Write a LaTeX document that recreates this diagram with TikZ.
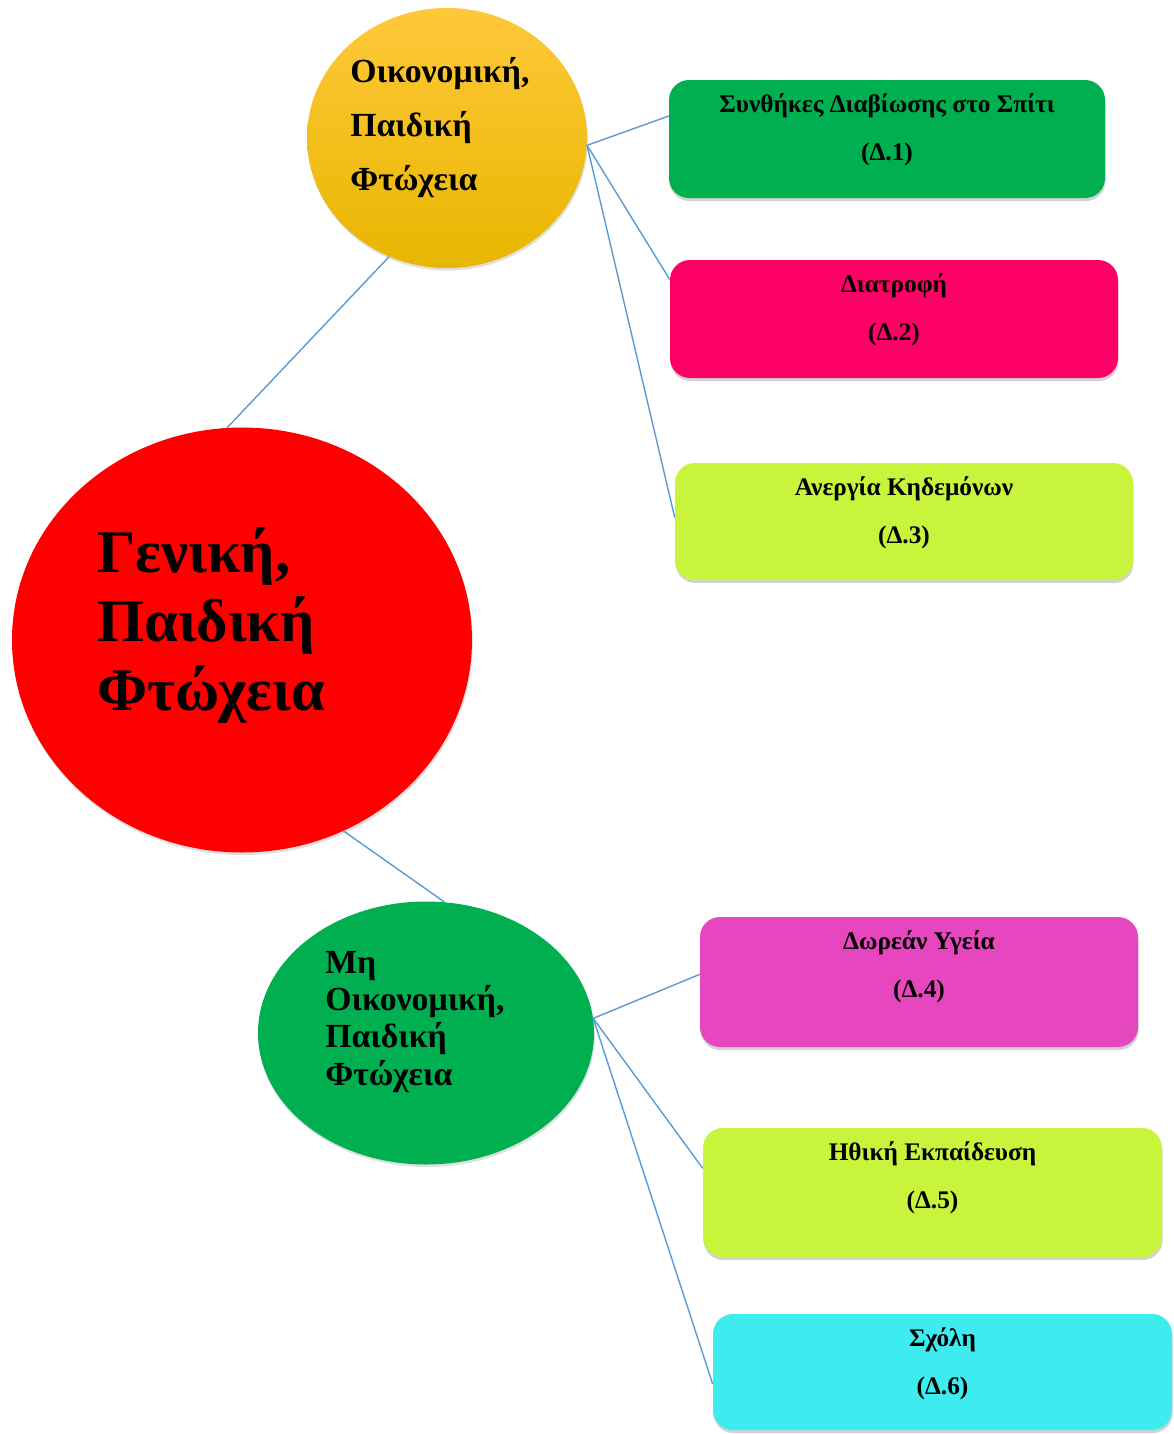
\documentclass[tikz,border=0pt]{standalone}
\usepackage{fontspec}
\setmainfont{Liberation Serif}
\usetikzlibrary{positioning,shapes.geometric,shadows,fit}

\definecolor{linkblue}{HTML}{5B9BD5}
\definecolor{goldtop}{HTML}{FFC83A}
\definecolor{goldbottom}{HTML}{E8B600}
\definecolor{hotred}{HTML}{FF0000}
\definecolor{leafgreen}{HTML}{00B050}
\definecolor{hotpink}{HTML}{FF0066}
\definecolor{limegreen}{HTML}{C8F43C}
\definecolor{orchid}{HTML}{E646BE}
\definecolor{aqua}{HTML}{3EECF0}

\begin{document}
\begin{tikzpicture}[x=0.025cm, y=-0.025cm,
  blob/.style={ellipse, inner sep=0pt, drop shadow={shadow xshift=0.6pt, shadow yshift=-1.8pt, opacity=0.25}},
  card/.style={rectangle, rounded corners=0.5cm, inner sep=0pt, drop shadow={shadow xshift=0.4pt, shadow yshift=-2.2pt, opacity=0.35}},
  blobtext/.style={anchor=north west, inner sep=0pt, align=left},
  cardtext/.style={inner sep=0pt, align=center, font=\bfseries\fontsize{18}{34}\selectfont},
  link/.style={draw=linkblue, line width=1pt}]

% Canvas
\useasboundingbox[fill=white] (0,0) rectangle (1173,1434);

% Draw circles
\node[blob, top color=goldtop, bottom color=goldbottom, minimum width=280*0.025cm, minimum height=260*0.025cm] (econ) at (447,138) {};
\node[blob, fill=hotred, minimum width=460*0.025cm, minimum height=425*0.025cm] (general) at (242,640) {};
\node[blob, fill=leafgreen, minimum width=336*0.025cm, minimum height=263*0.025cm] (nonecon) at (426,1033) {};

% Texts in circles
\node[blobtext, font=\bfseries\fontsize{24}{38.4}\selectfont] (econText) at (350,57) {Οικονομική,\\Παιδική\\Φτώχεια};
\node[blobtext, font=\bfseries\fontsize{43}{49}\selectfont] (generalText) at (97,527) {Γενική,\\Παιδική\\Φτώχεια};
\node[blobtext, font=\bfseries\fontsize{24}{26.5}\selectfont] (noneconText) at (325,951) {Μη\\Οικονομική,\\Παιδική\\Φτώχεια};

% Draw cards
\node[card, fill=leafgreen, fit={(669,80) (1105,198)}] (d1) {};
\node[card, fill=hotpink, fit={(670,260) (1118,378)}] (d2) {};
\node[card, fill=limegreen, fit={(675,463) (1133,580)}] (d3) {};
\node[card, fill=orchid, fit={(700,917) (1138,1047)}] (d4) {};
\node[card, fill=limegreen, fit={(703,1128) (1162,1257)}] (d5) {};
\node[card, fill=aqua, fit={(713,1314) (1172,1430)}] (d6) {};

% Texts in cards
\node[cardtext, below=0.35cm of d1.north] (d1Text) {Συνθήκες Διαβίωσης στο Σπίτι\\(Δ.1)};
\node[cardtext, below=0.35cm of d2.north] (d2Text) {Διατροφή\\(Δ.2)};
\node[cardtext, below=0.35cm of d3.north] (d3Text) {Ανεργία Κηδεμόνων\\(Δ.3)};
\node[cardtext, below=0.35cm of d4.north] (d4Text) {Δωρεάν Υγεία\\(Δ.4)};
\node[cardtext, below=0.35cm of d5.north] (d5Text) {Ηθική Εκπαίδευση\\(Δ.5)};
\node[cardtext, below=0.35cm of d6.north] (d6Text) {Σχόλη\\(Δ.6)};

% Draw connectors
\draw[link] (general.94) -- (econ.244);
\draw[link] (general.-62) -- (nonecon.82);
\foreach \card/\ang in {d1/174, d2/170, d3/179}
  \draw[link] (econ.-3) -- (\card.\ang);
\foreach \card/\ang in {d4/178, d5/174, d6/183}
  \draw[link] (nonecon.5) -- (\card.\ang);

\end{tikzpicture}
\end{document}
